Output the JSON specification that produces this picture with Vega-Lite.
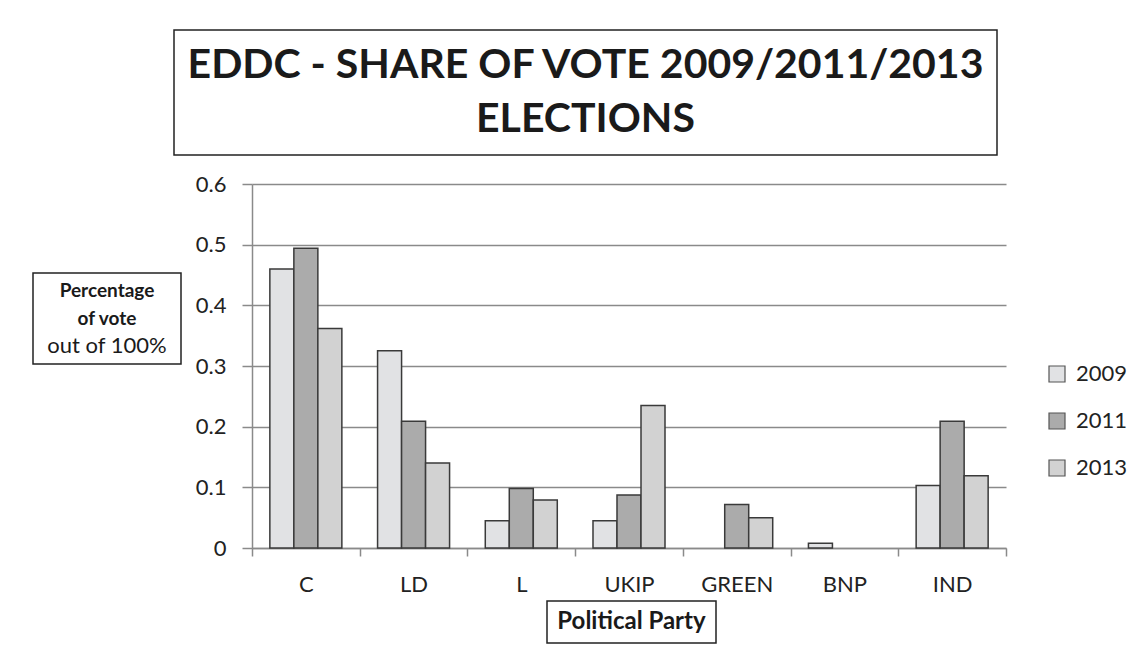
{
  "$schema": "https://vega.github.io/schema/vega-lite/v6.json",
  "padding": {"left": 32, "top": 29, "right": 0, "bottom": 0},
  "background": "white",
  "config": {
    "font": "Lato",
    "view": {"stroke": null}
  },
  "bounds": "full",
  "spacing": 17,
  "vconcat": [
    {
      "bounds": "flush",
      "spacing": 0,
      "hconcat": [
        {
          "width": 141, "height": 125,
          "data": {"values": [{"t": ""}]},
          "mark": {"type": "text"},
          "encoding": {"text": {"field": "t"}}
        },
        {
          "width": 823, "height": 125,
          "view": {"stroke": "#222222", "strokeWidth": 1.5},
          "data": {"values": [{"t": "EDDC - SHARE OF VOTE 2009/2011/2013\nELECTIONS"}]},
          "mark": {"type": "text", "lineBreak": "\n", "fontSize": 41, "fontWeight": "bold", "lineHeight": 54, "baseline": "middle", "align": "center", "dy": -27, "color": "#1a1a1a"},
          "encoding": {"text": {"field": "t"}}
        }
      ]
    },
    {
      "bounds": "full",
      "spacing": 5,
      "vconcat": [
        {
          "bounds": "full",
          "spacing": 13,
          "hconcat": [
            {
              "bounds": "flush",
              "spacing": 0,
              "vconcat": [
                {
                  "width": 148, "height": 89,
                  "data": {"values": [{"t": ""}]},
                  "mark": {"type": "text"},
                  "encoding": {"text": {"field": "t"}}
                },
                {
                  "width": 148, "height": 91,
                  "view": {"stroke": "#222222", "strokeWidth": 1.5},
                  "data": {"values": [
                    {"line": "1", "t": "Percentage", "style": "b"},
                    {"line": "2", "t": "of vote", "style": "b"},
                    {"line": "3", "t": "out of 100%", "style": "r"}
                  ]},
                  "encoding": {
                    "y": {"field": "line", "type": "ordinal", "axis": null, "scale": {"type": "point", "padding": 0.667}},
                    "text": {"field": "t"}
                  },
                  "layer": [
                    {
                      "transform": [{"filter": "datum.style == 'b'"}],
                      "mark": {"type": "text", "fontWeight": "bold", "fontSize": 19, "baseline": "middle", "color": "#1a1a1a"}
                    },
                    {
                      "transform": [{"filter": "datum.style == 'r'"}],
                      "mark": {"type": "text", "fontSize": 22, "baseline": "middle", "color": "#1a1a1a"}
                    }
                  ]
                }
              ]
            },
            {
              "width": 754, "height": 364,
              "data": {"values": [
                {"party": "C", "year": "2009", "share": 0.46},
                {"party": "C", "year": "2011", "share": 0.494},
                {"party": "C", "year": "2013", "share": 0.362},
                {"party": "LD", "year": "2009", "share": 0.325},
                {"party": "LD", "year": "2011", "share": 0.209},
                {"party": "LD", "year": "2013", "share": 0.14},
                {"party": "L", "year": "2009", "share": 0.045},
                {"party": "L", "year": "2011", "share": 0.098},
                {"party": "L", "year": "2013", "share": 0.079},
                {"party": "UKIP", "year": "2009", "share": 0.045},
                {"party": "UKIP", "year": "2011", "share": 0.0875},
                {"party": "UKIP", "year": "2013", "share": 0.235},
                {"party": "GREEN", "year": "2011", "share": 0.0715},
                {"party": "GREEN", "year": "2013", "share": 0.05},
                {"party": "BNP", "year": "2009", "share": 0.008},
                {"party": "IND", "year": "2009", "share": 0.103},
                {"party": "IND", "year": "2011", "share": 0.209},
                {"party": "IND", "year": "2013", "share": 0.119}
              ]},
              "mark": {"type": "bar", "stroke": "#3a3a3a", "strokeWidth": 1.5},
              "encoding": {
                "x": {
                  "field": "party", "type": "nominal",
                  "sort": ["C", "LD", "L", "UKIP", "GREEN", "BNP", "IND"],
                  "scale": {"paddingInner": 0, "paddingOuter": 0},
                  "axis": {
                    "title": null, "labelAngle": 0, "tickBand": "extent",
                    "labelFontSize": 22, "labelColor": "#222222", "labelFont": "Lato",
                    "tickSize": 8, "labelPadding": 18,
                    "domainColor": "#8a8a8a", "tickColor": "#8a8a8a", "domainWidth": 1.5, "tickWidth": 1.5
                  }
                },
                "xOffset": {
                  "field": "year", "type": "nominal",
                  "scale": {"domain": ["2009", "2011", "2013"], "paddingInner": 0, "paddingOuter": 0.744}
                },
                "y": {
                  "field": "share", "type": "quantitative",
                  "scale": {"domain": [0, 0.6], "nice": false},
                  "axis": {
                    "title": null, "values": [0, 0.1, 0.2, 0.3, 0.4, 0.5, 0.6], "format": "~g",
                    "labelFontSize": 22, "labelColor": "#222222", "labelFont": "Lato",
                    "tickSize": 10, "labelPadding": 16,
                    "grid": true, "gridColor": "#8a8a8a", "gridWidth": 1.5,
                    "domainColor": "#8a8a8a", "tickColor": "#8a8a8a", "domainWidth": 1.5, "tickWidth": 1.5
                  }
                },
                "color": {
                  "field": "year", "type": "nominal",
                  "scale": {"domain": ["2009", "2011", "2013"], "range": ["#e1e2e4", "#ababab", "#d2d2d2"]},
                  "legend": {
                    "title": null, "orient": "none", "legendX": 1013, "legendY": 333,
                    "symbolType": "square", "symbolSize": 256,
                    "symbolStrokeColor": "#555555", "symbolStrokeWidth": 1.2, "symbolOpacity": 1,
                    "labelFontSize": 22, "labelColor": "#222222", "labelFont": "Lato",
                    "labelOffset": 8, "rowPadding": 25
                  }
                }
              }
            }
          ]
        },
        {
          "bounds": "flush",
          "spacing": 0,
          "hconcat": [
            {
              "width": 514, "height": 42,
              "data": {"values": [{"t": ""}]},
              "mark": {"type": "text"},
              "encoding": {"text": {"field": "t"}}
            },
            {
              "width": 169, "height": 42,
              "view": {"stroke": "#222222", "strokeWidth": 1.5},
              "data": {"values": [{"t": "Political Party"}]},
              "mark": {"type": "text", "fontSize": 24, "fontWeight": "bold", "baseline": "middle", "align": "center", "color": "#1a1a1a"},
              "encoding": {"text": {"field": "t"}}
            }
          ]
        }
      ]
    }
  ]
}
